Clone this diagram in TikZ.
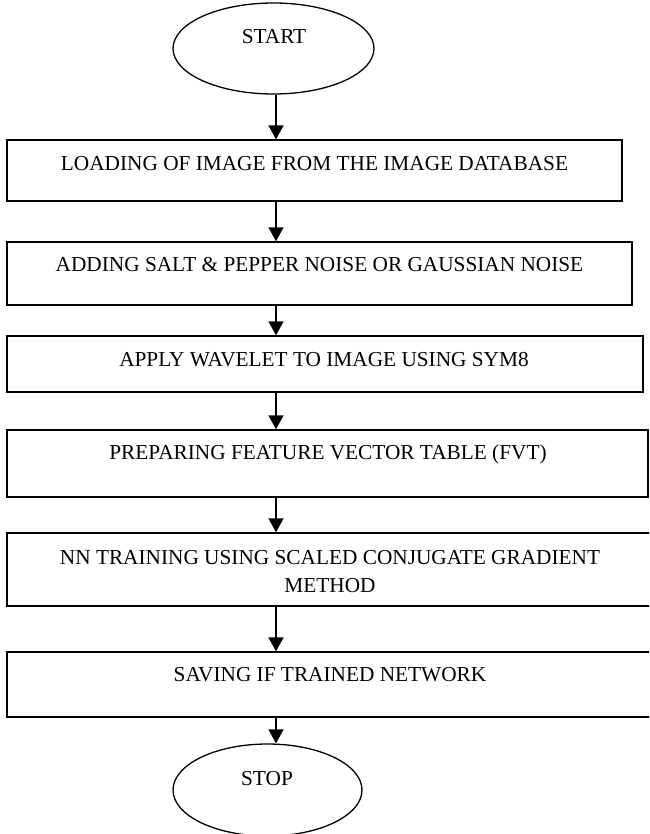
\documentclass[tikz,border=0pt]{standalone}
\usepackage{fontspec}
\setmainfont{Liberation Serif}
\usetikzlibrary{arrows.meta,shapes.geometric}
\begin{document}
\begin{tikzpicture}[x=1pt,y=-1pt,
  stepbox/.style={draw, line width=1.4pt, inner sep=0pt},
  term/.style={draw, ellipse, line width=1.3pt, inner sep=0pt},
  lbl/.style={inner sep=0pt, anchor=base, font=\fontsize{21.3}{28}\selectfont},
  arr/.style={line width=1.5pt, -{Triangle[width=15pt,length=14pt]}}]
\useasboundingbox (0,0) rectangle (649,834);
\clip (0,0) rectangle (649,834);
\fill[white] (0,0) rectangle (649,834);
\coordinate (col) at (276,0);
% terminals
\node[term, minimum width=201pt, minimum height=91pt] (start) at (273.5,48.5) {};
\node[lbl] (startlbl) at (274,44) {START};
\node[term, minimum width=189pt, minimum height=92pt] (stop) at (267.5,790) {};
\node[lbl] (stoplbl) at (267,785) {STOP};
% boxes
\node[stepbox, minimum width=615pt, minimum height=61pt] (b1) at (314.5,170.5) {};
\node[lbl] (t1) at (314.5,171) {LOADING OF IMAGE FROM THE IMAGE DATABASE};
\node[stepbox, minimum width=625pt, minimum height=63pt] (b2) at (319.5,273.5) {};
\node[lbl] (t2) at (319.5,271) {ADDING SALT \& PEPPER NOISE OR GAUSSIAN NOISE};
\node[stepbox, minimum width=636pt, minimum height=56pt] (b3) at (325,364) {};
\node[lbl] (t3) at (324,366) {APPLY WAVELET TO IMAGE USING SYM8};
\node[stepbox, minimum width=641pt, minimum height=67pt] (b4) at (327.5,463.5) {};
\node[lbl] (t4) at (328,459) {PREPARING FEATURE VECTOR TABLE (FVT)};
\node[stepbox, minimum width=648pt, minimum height=73pt] (b5) at (331,569.5) {};
\node[lbl, anchor=north, align=center] (t5) at (330,549.9) {NN TRAINING USING SCALED CONJUGATE GRADIENT\\METHOD};
\node[stepbox, minimum width=648pt, minimum height=65pt] (b6) at (331,684.5) {};
\node[lbl] (t6) at (330,681) {SAVING IF TRAINED NETWORK};
% connectors
\draw[arr] (start.south -| col) -- (b1.north -| col);
\draw[arr] (b1.south -| col) -- (b2.north -| col);
\draw[arr] (b2.south -| col) -- (b3.north -| col);
\draw[arr] (b3.south -| col) -- (b4.north -| col);
\draw[arr] (b4.south -| col) -- (b5.north -| col);
\draw[arr] (b5.south -| col) -- (b6.north -| col);
\draw[arr] (b6.south -| col) -- (stop.north -| col);
\end{tikzpicture}
\end{document}
